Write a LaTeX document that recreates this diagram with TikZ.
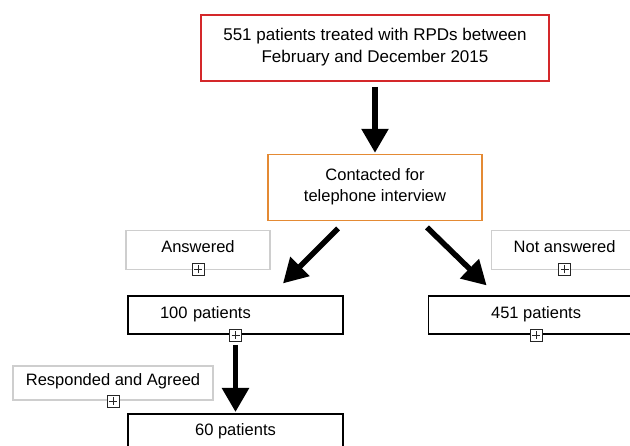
\documentclass[tikz,border=0pt]{standalone}
\usepackage{fontspec}
\setmainfont{Liberation Sans}
\usetikzlibrary{positioning,arrows.meta,calc}
\definecolor{FrameRed}{RGB}{212,40,42}
\definecolor{FrameOrange}{RGB}{228,138,52}
\definecolor{FrameGray}{RGB}{206,206,206}
\tikzset{
  bigarrow/.style={-{Triangle[length=24pt,width=26pt]},line width=5.5pt,draw=black},
  box/.style={draw=black,line width=1.6pt,fill=white,align=center,
    minimum width=215pt,minimum height=38pt,inner sep=0pt,text depth=6pt,
    font=\fontsize{16.5}{21}\selectfont},
  redbox/.style={box,draw=FrameRed,minimum width=348pt,minimum height=66pt,
    font=\fontsize{17}{22}\selectfont},
  orangebox/.style={box,draw=FrameOrange,minimum width=214pt,minimum height=66pt},
  graybox/.style={box,draw=FrameGray,minimum height=39pt,text depth=8pt},
  expander/.style={draw=black!85,fill=white,line width=0.7pt,minimum size=12pt,inner sep=0pt,
    path picture={\draw[line width=0.7pt]
      ($(path picture bounding box.center)+(-4pt,0)$) -- ++(8pt,0)
      ($(path picture bounding box.center)+(0,-4pt)$) -- ++(0,8pt);}}
}

\begin{document}
\begin{tikzpicture}
  \useasboundingbox (0,0) rectangle (630pt,-446pt);
  \clip (0,0) rectangle (630pt,-446pt);
  \node[redbox] (treated) at (375pt,-48pt) {551 patients treated with RPDs between\\February and December 2015};
  \node[orangebox,below=72pt of treated] (contact) {Contacted for\\telephone interview};
  \node[box,below=74pt of contact,xshift=-139.5pt,text width=151pt,align=left] (n100) {100 patients};
  \node[box,right=84pt of n100] (n451) {451 patients};
  \node[box,below=78pt of n100] (n60) {60 patients};
  \node[graybox,minimum width=144pt,above=25pt of n100,xshift=-37.5pt] (answered) {Answered};
  \node[graybox,minimum width=146pt,above=25pt of n451,xshift=28.5pt] (notanswered) {Not answered};
  \node[graybox,minimum width=200pt,minimum height=34pt,above=12pt of n60,xshift=-122.5pt] (responded) {Responded and Agreed};
  % expand markers
  \node[expander] (answeredx) at ([yshift=1pt]answered.south) {};
  \node[expander] (notansweredx) at ([yshift=1pt]notanswered.south) {};
  \node[expander] (n100x) at (n100.south) {};
  \node[expander] (n451x) at (n451.south) {};
  \node[expander] (respondedx) at (responded.south) {};
  \node[expander] (n60x) at (n60.south) {};
  \draw[bigarrow,shorten <=5pt,shorten >=1pt] (treated) -- (contact);
  \draw[bigarrow] ($(contact.south)+(-37pt,-7pt)$) -- ($(n100.north)+(47.5pt,12pt)$);
  \draw[bigarrow] ($(contact.south)+(52pt,-6pt)$) -- ($(n451.north)+(-49.5pt,10pt)$);
  \draw[bigarrow,shorten <=10pt,shorten >=1pt] (n100) -- (n60);
\end{tikzpicture}
\end{document}
